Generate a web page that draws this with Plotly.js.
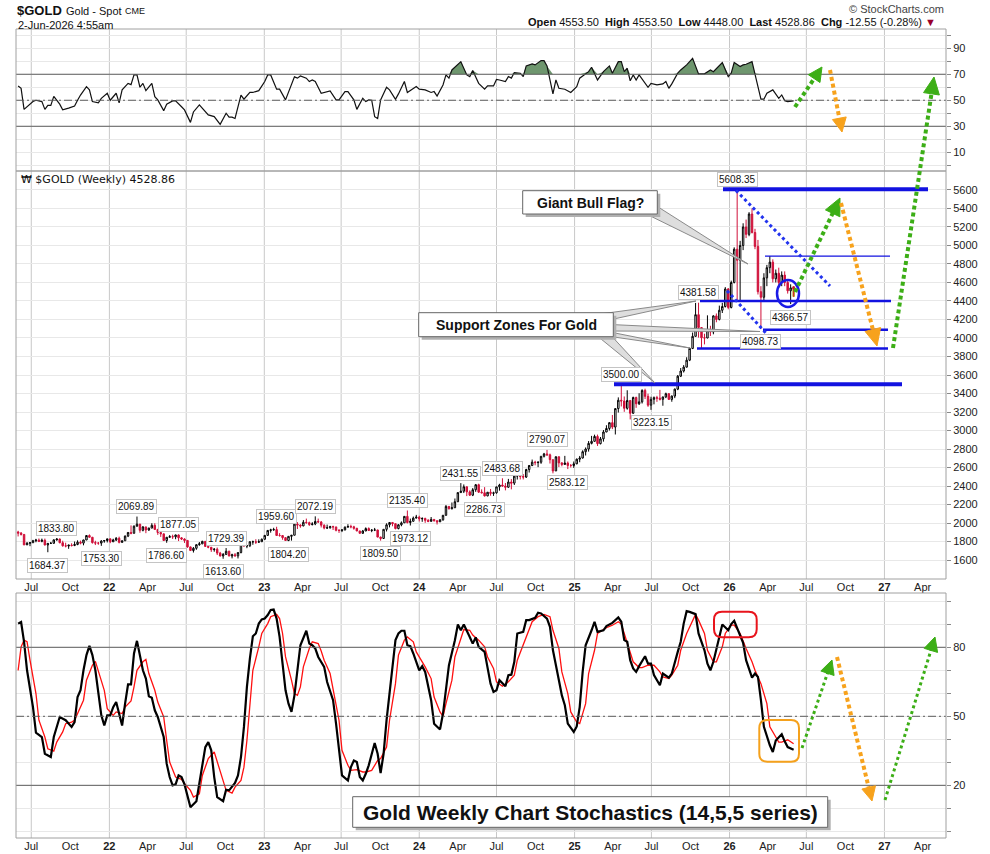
<!DOCTYPE html>
<html><head><meta charset="utf-8">
<script src="https://cdn.plot.ly/plotly-3.0.1.min.js"></script>
<style>html,body{margin:0;padding:0;background:#fff}#chart{width:990px;height:854px}</style>
</head><body><div id="chart"></div>
<script>
// ---------------- DATA (weekly bars, first bar week of 2021-05-31) ----------------
const firstWeek = '2021-05-31';
const open2021 = [1903,1891,1877,1764,1781,1787,1809,1815,1802,1814,1763,1780,1781,1818,1827,1787,1754,1751,1761,1757,1768,1793,1783,1817,1865,1846,1788,1783,1783,1805,1811];
const high2021 = [1916,1903,1880,1795,1795,1818,1829,1833,1832,1832,1781,1795,1823,1833.8,1832,1809,1787,1764,1781,1800,1813,1810,1819,1868,1877,1850,1808,1793,1815,1814,1830];
const low2021  = [1855,1865,1761,1767,1750,1785,1792,1794,1792,1757,1684.37,1773,1778,1809,1781,1745,1737,1721,1746,1750,1760,1770,1759,1815,1843,1778,1762,1765,1753.3,1787,1790];
const close2021= [1891,1877,1764,1781,1787,1809,1815,1802,1814,1763,1780,1781,1818,1827,1787,1754,1751,1761,1757,1768,1793,1783,1817,1865,1846,1788,1783,1783,1805,1811,1829];

const open2022 = [1829,1797,1817,1835,1791,1808,1859,1898,1889,1966,1988,1921,1958,1925,1945,1975,1931,1897,1883,1811,1846,1853,1851,1871,1840,1827,1812,1742,1703,1727,1766,1775,1802,1747,1738,1712,1717,1675,1644,1660,1695,1644,1657,1645,1681,1771,1751,1755,1797,1797,1793,1798];
const high2022 = [1831,1830,1848,1853,1812,1865,1903,1974,1974,2069.89,1990,1966,1960,1950,1998,1998,1936,1910,1885,1849,1870,1874,1875,1877.05,1847,1835,1814,1745,1740,1767,1795,1808,1802,1765,1740,1729,1735,1688,1676,1729.39,1700,1668,1675,1682,1774,1787,1763,1804,1810,1825,1824,1833];
const low2022  = [1782,1797,1805,1780,1788,1808,1848,1878,1888,1960,1895,1910,1890,1915,1945,1929,1872,1850,1808,1786.6,1840,1828,1825,1805,1816,1785,1732,1697,1681,1711,1754,1772,1745,1727,1688,1690,1654,1639,1613.6,1660,1640,1618,1637,1617,1672,1746,1728,1740,1765,1774,1785,1797];
const close2022= [1797,1817,1835,1791,1808,1859,1898,1889,1966,1988,1921,1958,1925,1945,1975,1931,1897,1883,1811,1846,1853,1851,1871,1840,1827,1812,1742,1703,1727,1766,1775,1802,1747,1738,1712,1717,1675,1644,1660,1695,1644,1657,1645,1681,1771,1751,1755,1797,1797,1793,1798,1824];

const open2023 = [1824,1866,1920,1926,1929,1865,1865,1842,1811,1856,1868,1988,1978,1969,2008,2004,1983,1990,2017,2011,1977,1946,1948,1961,1958,1921,1919,1925,1955,1962,1959,1943,1914,1889,1914,1940,1919,1924,1925,1848,1833,1932,1981,2006,1993,1940,1981,2002,2072,2005,2019,2053];
const high2023 = [1871,1922,1938,1949,1959.6,1890,1870,1846,1858,1870,1990,2010,1986,2032,2048,2015,2009,2072.19,2048,2022,1985,1983,1970,1971,1959,1935,1935,1963,1987,1982,1970,1948,1916,1925,1953,1953,1932,1947,1927,1853,1932,1997,2009,2010,1993,1988,2017,2075,2135.4,2048,2070,2088];
const low2023  = [1823,1866,1896,1917,1861,1853,1819,1809,1804.2,1810,1867,1935,1949,1965,1993,1969,1974,1977,2005,1952,1932,1938,1940,1925,1910,1893,1902,1922,1952,1943,1928,1912,1885,1884,1913,1915,1901,1913,1846,1809.5,1832,1909,1953,1965,1932,1932,1965,2001,1996,1973.12,2016,2051];
const close2023= [1866,1920,1926,1929,1865,1865,1842,1811,1856,1868,1988,1978,1969,2008,2004,1983,1990,2017,2011,1977,1946,1948,1961,1958,1921,1919,1925,1955,1962,1959,1943,1914,1889,1914,1940,1919,1924,1925,1848,1833,1932,1981,2006,1993,1940,1981,2002,2072,2005,2019,2053,2063];

const open2024 = [2063,2045,2049,2029,2018,2039,2024,2013,2035,2083,2179,2155,2165,2230,2329,2344,2392,2337,2301,2360,2414,2334,2327,2293,2333,2321,2326,2391,2411,2400,2387,2443,2431,2507,2512,2503,2497,2578,2622,2658,2653,2657,2721,2747,2737,2685,2563,2716,2650,2633,2648,2622,2622];
const high2024 = [2079,2062,2058,2042,2065,2043,2031,2041,2088,2195,2185,2222,2265,2330,2431.55,2417,2393,2353,2378,2422,2425,2364,2388,2335,2368,2339,2392,2424,2483.68,2432,2477,2475,2509,2531,2528,2529,2586,2625,2686,2673,2667,2725,2758,2790.07,2750,2685,2721,2721,2657,2726,2665,2638,2665];
const low2024  = [2017,2013,2002,2009,2016,2016,1984,2011,2025,2082,2146,2146,2163,2228,2326,2324,2291,2292,2291,2337,2325,2320,2286.73,2290,2295,2293,2318,2350,2394,2353,2380,2364,2411,2470,2471,2471,2487,2546,2615,2624,2604,2640,2708,2725,2643,2537,2563,2605,2613,2631,2583.12,2600,2596];
const close2024= [2045,2049,2029,2018,2039,2024,2013,2035,2083,2179,2155,2165,2230,2329,2344,2392,2337,2301,2360,2414,2334,2327,2293,2333,2321,2326,2391,2411,2400,2387,2443,2431,2507,2512,2503,2497,2578,2622,2658,2653,2657,2721,2747,2737,2685,2563,2716,2650,2633,2648,2622,2622,2640];

const open2025 = [2640,2690,2703,2771,2800,2861,2883,2936,2858,2910,2984,3022,3085,3037,3237,3327,3319,3240,3325,3187,3357,3289,3310,3433,3369,3274,3337,3355,3350,3337,3363,3398,3336,3372,3447,3587,3643,3685,3760,3887,4018,4252,4113,4002,4000,4085,4065,4239,4200,4300,4340,4530];
const high2025 = [2697,2725,2786,2817,2886,2942,2955,2956,2930,3005,3057,3087,3168,3237,3358,3500,3368,3435,3325,3366,3366,3403,3446,3452,3398,3365,3368,3375,3439,3365,3409,3404,3379,3454,3600,3675,3707,3792,3897,4059,4379,4381.58,4113,4046,4245,4132,4245,4265,4350,4380,4550,4540];
const low2025  = [2636,2657,2697,2730,2772,2850,2880,2833,2850,2880,2982,3000,3015,2957,3194,3260,3202,3225,3120,3180,3245,3276,3292,3340,3256,3223.15,3283,3310,3325,3268,3350,3330,3311,3350,3436,3578,3627,3681,3750,3880,4016,4004,3886,3931,3997,4022,4040,4170,4190,4270,4330,4310];
const close2025= [2690,2703,2771,2800,2861,2883,2936,2858,2910,2984,3022,3085,3037,3237,3327,3319,3240,3325,3187,3357,3289,3310,3433,3369,3274,3337,3355,3350,3337,3363,3398,3336,3372,3447,3587,3643,3685,3760,3887,4018,4252,4113,4002,4000,4085,4065,4239,4200,4300,4340,4530,4330];

const open2026 = [4330,4600,4960,4840,5000,5200,5120,5340,5140,4990,4500,4440,4650,4760,4820,4640,4700,4600,4680,4600,4510,4553.5];
const high2026 = [4620,4980,5608.35,5050,5240,5280,5360,5400,5180,5060,4560,4700,4790,4885,4850,4740,4760,4720,4720,4620,4580,4553.5];
const low2026  = [4320,4590,4400,4410,4950,5080,5100,5130,4960,4470,4098.73,4400,4560,4700,4600,4600,4560,4560,4560,4480,4366.57,4448];
const close2026= [4600,4960,4840,5000,5200,5120,5340,5140,4990,4500,4440,4650,4760,4820,4640,4700,4600,4680,4600,4510,4541.41,4528.86];

// RSI(14): week index -> value
const rsiIdx = [0,1,2,3,5,6,8,9,10,11,12,14,15,17,19,20,21,23,24,25,27,28,30,31,33,34,35,37,38,39,40,41,42,43,44,45,46,47,49,50,52,53,55,56,58,59,61,63,64,66,68,70,71,72,73,75,76,78,79,81,83,84,85,87,88,90,91,93,94,95,97,98,99,100,102,104,105,107,108,110,111,113,114,116,117,118,119,120,121,122,124,125,127,128,130,131,132,134,135,137,139,140,141,143,144,145,146,148,149,151,152,153,155,157,158,160,161,162,164,165,166,167,169,170,171,173,174,176,177,178,180,181,182,184,186,188,189,192,193,195,197,199,200,202,203,204,205,206,207,208,209,212,213,215,217,218,219,220,222,223,225,227,229,231,233,234,235,237,239,240,241,243,244,245,247,248,250,251,252,254,256,257,258,259,261];
const rsiVal = [61,59.2,43,45,49,50,49,43,46,46,53,47,42.6,44,45.6,50,54,60.5,58,49,48,51.5,55.4,50,55.4,48,58,63,62,69.5,69.5,60,63,57.4,60,63,52.8,50.3,42,47,49.5,49.5,45,42.6,33,41,46.4,41,38.7,37.4,31.5,40,37,37,36,54,50.8,56,56,57.4,64.4,69.5,69.5,58.5,58.5,50.3,56.7,68,67,68.7,67,64.4,65.6,64.4,55.4,56.7,57.2,50.3,50.3,56.7,56.7,50.3,43,51.5,49,50.3,50,37.4,36,50.3,60,58,50.8,54.9,64.4,56,57.4,60.5,58.5,58,56,56.7,53.3,61.8,69.5,67,73.3,77.2,79.7,69.5,68.2,72.8,63,58.5,61,61,66,65.6,64.4,68.2,67,71.3,70.8,68.2,76.4,78,77.2,80.5,80.5,76.4,54.9,65.6,59.2,58.5,56,60.5,67,72,75.4,65.6,72,76.4,70.8,79.7,79.7,72,74.6,65,69.5,65.6,69.5,60,63,61.8,62.6,64.4,59.2,62.6,70.8,73.3,77.2,82.3,70.3,70.3,73.3,72,74.6,79,68.2,70.8,79,75.9,77.2,77.7,79.7,70.8,50.8,50.8,55.4,58,51.5,54.1,49.7,49,49.5];

// Slow stochastics %K (black)
const stochKIdx = [0,1,2,3,5,6,8,9,11,12,14,15,16,18,19,20,21,22,23,24,25,26,27,28,29,30,31,32,33,34,35,36,37,38,39,40,41,42,43,44,45,46,47,49,50,51,52,53,54,55,56,57,58,60,61,62,63,64,65,66,67,69,70,71,73,74,75,76,77,78,79,80,81,82,83,84,85,86,87,88,89,90,91,92,93,94,95,97,98,99,100,101,103,104,106,107,108,109,111,112,113,114,115,116,117,118,120,121,122,123,124,125,126,127,128,129,130,131,132,133,135,136,137,138,139,140,142,143,144,145,147,148,149,150,152,153,154,155,157,158,159,160,161,162,164,165,166,167,168,170,171,172,174,175,176,178,179,180,181,182,183,184,185,187,188,189,190,191,193,194,195,197,198,200,202,203,204,205,206,207,208,209,211,212,213,214,216,217,219,220,222,223,224,225,226,228,229,231,232,233,234,236,237,239,240,241,243,244,245,247,248,249,250,251,253,254,255,257,258,259,261];
const stochKVal = [90.3,91,82.4,70,54,42.9,41,33.7,32.3,41,49.7,49,48.3,45.4,47.5,58.4,61.3,70,76.6,80.6,76.6,70,59.9,50.4,46,50.4,50.4,54,56.2,51.2,46,55.5,63.9,63.9,77.3,82.8,75.8,70,66.4,58.7,58.1,52.6,49.7,41,29.4,23.6,20,20.4,24.3,23.6,20.4,14.9,10.5,13.1,20.7,30.1,36.6,38.8,35.2,23.6,14.9,13.1,18.1,17.8,21,24.3,32.3,45.4,62.8,75.1,84.8,86,90.3,92.1,92.5,94,96.2,96.4,92.5,84.5,73.7,61.3,55.5,51.9,59.1,71.5,80.9,87.2,81.6,80.9,79.5,75.8,71.5,64.9,57,46.8,35.2,24.3,22.1,27.9,30.8,30.1,23.6,22.1,25,28.7,38.4,33.7,25.3,33.7,48.3,59.9,72.9,83.1,86,87.2,87.2,80.9,80.5,77.3,70,71.8,69.3,62.8,57,46.8,44.3,51.2,62.8,72.2,83.1,89.9,87.4,89.9,84.5,81.6,84.3,80.2,78,71.5,64.2,60.6,61.3,65.7,63.1,67.9,68.1,73.7,86,86.7,91.8,91.8,92.8,95,94.7,92.5,88.9,78.7,72.9,65.7,59.1,54.8,46.8,43.2,45.6,54,69.3,80.9,87.4,91.1,86.7,87.4,89.2,90.6,93,91.1,83.1,82.4,74.4,70.8,69.3,71.8,76.1,72.9,72.9,67.9,63.5,68.6,66.8,68.6,78,82.4,90.3,95.7,95.4,94.4,86,78.7,72.9,70,73.7,83.8,89.9,87.4,90.1,91.5,85.3,81.9,74.4,66.8,68.6,67.1,57,45.4,37.4,34.5,39.5,42.2,39.1,36.6,35.5];

// Slow stochastics %D (red)
const stochDIdx = [0,1,2,3,4,6,7,9,10,12,13,15,16,18,19,20,22,23,25,26,27,29,30,32,33,35,36,38,39,40,42,43,44,46,47,49,50,51,53,55,56,58,59,61,62,64,66,67,69,70,72,73,75,76,77,78,79,81,82,84,85,87,88,89,90,92,93,94,95,96,98,99,101,102,103,105,106,108,109,111,112,114,116,117,119,121,122,124,125,127,128,130,131,133,134,135,137,139,140,142,143,144,146,147,149,150,152,153,155,157,158,160,161,162,163,165,167,168,170,172,173,175,177,179,180,182,183,185,186,188,189,191,192,194,195,197,198,200,202,203,204,206,207,209,210,212,214,216,217,219,220,222,223,225,227,228,229,231,232,234,235,237,238,240,241,243,245,247,248,250,252,253,255,256,257,259,261];
const stochDVal = [70,80.2,83.1,82.4,74.4,59.9,48.3,41,35.9,34.9,38.8,43.2,46.8,47.5,48.3,51.2,57,65.7,72.2,73.9,70,61.3,53.3,50.4,51.9,51.2,54,56.7,62.8,70,73.7,74.7,68.6,61.3,56.2,49.7,39.5,30.1,23.6,22.6,20.7,17.8,14.9,16.3,24.3,31.6,34.5,30.1,22.1,17.8,16.6,19.2,22.1,27.9,39.5,55.5,70,80.2,86,90.3,93.3,94.3,92.5,86,75.8,65.7,59.9,59.1,62.8,71.5,79.5,82.4,81.6,78.4,74.4,68.6,61.3,48.3,35.2,28.7,26.5,26.8,25.8,25.8,26.5,30.8,31.6,36.6,48.3,64.2,76.6,83.1,84.5,82.4,78,75.8,71.5,66.4,58.4,51.9,50,55.5,65.7,75.8,83.8,87.7,87.4,85.3,83.1,80.2,75.8,70.8,65,64.2,63.1,65,67.9,74.4,80.9,87.4,91.1,93.3,94.3,93.3,87.4,79.5,69.3,59.9,51.9,47.5,46.8,55.5,68.6,78.7,86,87.7,88.5,89.6,91.1,90.1,86,78.7,73.7,71.2,71.2,72.2,72.2,69.3,67.1,66.4,67.9,72.2,78.7,86,91.8,94.3,91.8,86,78.7,73.7,73.7,80.2,86,89.6,89.6,86,79.5,73.7,70,64.2,55.5,45.4,41,38.8,38.8,39.8,38.1];

// Swing labels: week index, value, above/below
const swingIdx = [13,10,28,40,50,54,70,69,87,91,100,122,131,132,149,157,163,178,185,203,213,229,242,260,250];
const swingVal = [1833.80,1684.37,1753.30,2069.89,1786.60,1877.05,1729.39,1613.60,1959.60,1804.20,2072.19,1809.50,2135.40,1973.12,2431.55,2286.73,2483.68,2790.07,2583.12,3500.00,3223.15,4381.58,5608.35,4366.57,4098.73];
const swingPos = ['a','b','b','a','b','a','a','b','a','b','a','b','a','b','a','b','a','a','b','a','b','a','a','b','b'];

// Drawn support / resistance levels
const levelVals = [5608.35, 3500, 4400, 4090, 3886, 4885];

// Axis ticks
const xTickVals = ['2021-07-01','2021-10-01','2022-01-01','2022-04-01','2022-07-01','2022-10-01','2023-01-01','2023-04-01','2023-07-01','2023-10-01','2024-01-01','2024-04-01','2024-07-01','2024-10-01','2025-01-01','2025-04-01','2025-07-01','2025-10-01','2026-01-01','2026-04-01','2026-07-01','2026-10-01','2027-01-01','2027-04-01'];
const xTickText = ['Jul','Oct','<b>22</b>','Apr','Jul','Oct','<b>23</b>','Apr','Jul','Oct','<b>24</b>','Apr','Jul','Oct','<b>25</b>','Apr','Jul','Oct','<b>26</b>','Apr','Jul','Oct','<b>27</b>','Apr'];
const xGridVals = ['2021-07-01','2022-01-01','2022-07-01','2023-01-01','2023-07-01','2024-01-01','2024-07-01','2025-01-01','2025-07-01','2026-01-01','2026-07-01','2027-01-01'];
const rsiTickVals = [0,10,20,30,40,50,60,70,80,90,100];
const rsiTickText = ['','10','','30','','50','','70','','90',''];
const priceTickVals = [1600,1800,2000,2200,2400,2600,2800,3000,3200,3400,3600,3800,4000,4200,4400,4600,4800,5000,5200,5400,5600];
const stochTickVals = [0,10,20,30,40,50,60,70,80,90,100];
const stochTickText = ['','','20','','','50','','','80','',''];

// ---------------- BUILD ----------------
const open = [].concat(open2021,open2022,open2023,open2024,open2025,open2026);
const high = [].concat(high2021,high2022,high2023,high2024,high2025,high2026);
const low  = [].concat(low2021,low2022,low2023,low2024,low2025,low2026);
const close= [].concat(close2021,close2022,close2023,close2024,close2025,close2026);
const t0 = Date.parse(firstWeek + 'T00:00:00Z');
const dates = open.map((_, i) => new Date(t0 + i * 7 * 86400000).toISOString().slice(0, 10));
const last = open.length - 1;

const FONT = 'Liberation Sans, Arial, sans-serif';
const L = 16, R = 946, T = 29, B = 838;
const P = X => (X - L) / (R - L);
const Q = Y => (B - Y) / (B - T);

const traces = [];
const rsiX = rsiIdx.map(i => dates[i]);
traces.push({type:'scatter', mode:'lines', x:rsiX, y:rsiIdx.map(() => 70), xaxis:'x3', yaxis:'y', line:{width:0, color:'rgba(0,0,0,0)'}, hoverinfo:'skip', showlegend:false});
traces.push({type:'scatter', mode:'lines', x:rsiX, y:rsiVal.map(v => Math.max(v, 70)), xaxis:'x3', yaxis:'y', fill:'tonexty', fillcolor:'rgb(110,150,110)', line:{width:0, color:'rgba(0,0,0,0)'}, hoverinfo:'skip', showlegend:false});
traces.push({type:'scatter', mode:'lines', x:rsiX, y:rsiVal, xaxis:'x3', yaxis:'y', line:{width:1.2, color:'#111'}, hoverinfo:'skip', showlegend:false});
traces.push({type:'candlestick', x:dates, open:open, high:high, low:low, close:close, xaxis:'x2', yaxis:'y2',
  increasing:{line:{color:'#000', width:1}, fillcolor:'#ffffff'},
  decreasing:{line:{color:'#d0103a', width:1}, fillcolor:'#d0103a'},
  whiskerwidth:0, hoverinfo:'skip', showlegend:false});
traces.push({type:'bar', x:[dates[last]], base:[low[last]], y:[open[last] - low[last]], width:[3.2 * 86400000], xaxis:'x2', yaxis:'y2',
  marker:{color:'#fff35a', line:{color:'#b8a000', width:1}}, hoverinfo:'skip', showlegend:false});
traces.push({type:'scatter', mode:'lines', x:stochDIdx.map(i => dates[i]), y:stochDVal, xaxis:'x', yaxis:'y3', line:{width:1.3, color:'#ff1010'}, hoverinfo:'skip', showlegend:false});
traces.push({type:'scatter', mode:'lines', x:stochKIdx.map(i => dates[i]), y:stochKVal, xaxis:'x', yaxis:'y3', line:{width:2.2, color:'#000'}, hoverinfo:'skip', showlegend:false});

const baseX = {type:'date', range:['2021-05-26','2027-05-26'], showgrid:false, zeroline:false, showline:false, ticks:'',
  tickvals:xTickVals, ticktext:xTickText, tickfont:{family:FONT, size:11, color:'#222'}, fixedrange:true};
const baseY = {side:'right', showgrid:true, gridcolor:'#e8e8e8', gridwidth:1, zeroline:false, showline:false,
  ticks:'outside', ticklen:4, tickcolor:'#888', tickfont:{family:FONT, size:11, color:'#222'}, fixedrange:true};

const shapes = [];
['y','y2','y3'].forEach(ya => xGridVals.forEach(d => shapes.push({type:'line', xref:'x', yref:ya + ' domain', x0:d, x1:d, y0:0, y1:1, line:{color:'#c8c8c8', width:1}, layer:'below'})));
const DD = '8px,3px,2px,3px';
const lvl = (ya, v, dash) => shapes.push({type:'line', xref:'paper', yref:ya, x0:0, x1:1, y0:v, y1:v, line:{color:'#5c5c5c', width:1, dash:dash || 'solid'}, layer:'above'});
lvl('y',70); lvl('y',30); lvl('y',50,DD); lvl('y3',80); lvl('y3',20); lvl('y3',50,DD);
[[T,171],[171,579],[593,B]].forEach(([a,b]) => shapes.push({type:'rect', xref:'paper', yref:'paper', x0:0, x1:1, y0:Q(b), y1:Q(a), line:{color:'#a0a0a0', width:1}, fillcolor:'rgba(0,0,0,0)', layer:'above'}));

const BLUE = '#1212e0';
const lvlX = [[723,928,4],[614,902,4],[700,891,2.5],[763,888,2.5],[697,888,2.5],[765,890,1.2]];
levelVals.forEach((v, k) => shapes.push({type:'line', xref:'paper', yref:'y2', x0:P(lvlX[k][0]), x1:P(lvlX[k][1]), y0:v, y1:v, line:{color:BLUE, width:lvlX[k][2]}}));
shapes.push({type:'line', xref:'paper', yref:'paper', x0:P(736), y0:Q(190.5), x1:P(830), y1:Q(286), line:{color:'#2233ee', width:3, dash:'3px,3px'}});
shapes.push({type:'line', xref:'paper', yref:'paper', x0:P(727), y0:Q(290.7), x1:P(780), y1:Q(348.3), line:{color:'#2233ee', width:3, dash:'3px,3px'}});
shapes.push({type:'circle', xref:'paper', yref:'paper', x0:P(777), x1:P(799), y0:Q(307), y1:Q(280), line:{color:'#1a1ae6', width:2.5}});

function arrow(a, color, width, hl, hw, dash) {
  const [x1,y1,x2,y2] = a; const dx = x2-x1, dy = y2-y1, len = Math.hypot(dx,dy);
  const ux = dx/len, uy = dy/len, bx = x2-ux*hl, by = y2-uy*hl, nx = -uy, ny = ux;
  shapes.push({type:'line', xref:'paper', yref:'paper', x0:P(x1), y0:Q(y1), x1:P(bx+ux), y1:Q(by+uy), line:{color:color, width:width, dash:dash}});
  shapes.push({type:'path', xref:'paper', yref:'paper', path:`M${P(x2)},${Q(y2)} L${P(bx+nx*hw)},${Q(by+ny*hw)} L${P(bx-nx*hw)},${Q(by-ny*hw)} Z`, fillcolor:color, line:{color:color, width:1}});
}
const GREEN = '#3cae16', ORANGE = '#f7a21c';
arrow([795,292,840,198], GREEN, 4, 17, 8, '4px,3px');
arrow([841,203,877,346], ORANGE, 4, 17, 8, '4px,3px');
arrow([893,348,934,77], GREEN, 4, 17, 8, '4px,3px');
arrow([795,107,822,67], GREEN, 4, 14, 7, '4px,3px');
arrow([830,70,842,132], ORANGE, 4, 14, 7, '4px,3px');
arrow([802,748,832,660], GREEN, 3, 14, 7, '3px,3px');
arrow([837,657,872,801], ORANGE, 4, 14, 7, '4px,3px');
arrow([885,800,935,637], GREEN, 3, 14, 7, '3px,3px');

function rrect(x0,y0,x1,y1,r,color,w) {
  const pts = (x,y) => `${P(x)},${Q(y)}`;
  const path = `M${pts(x0+r,y0)} L${pts(x1-r,y0)} Q${pts(x1,y0)} ${pts(x1,y0+r)} L${pts(x1,y1-r)} Q${pts(x1,y1)} ${pts(x1-r,y1)} L${pts(x0+r,y1)} Q${pts(x0,y1)} ${pts(x0,y1-r)} L${pts(x0,y0+r)} Q${pts(x0,y0)} ${pts(x0+r,y0)} Z`;
  shapes.push({type:'path', xref:'paper', yref:'paper', path:path, line:{color:color, width:w}, fillcolor:'rgba(0,0,0,0)'});
}
rrect(714,611.7,756.7,637.3,8,'#e8141c',2);
rrect(759.3,720,799,761.7,8,'#f5a11c',2);

function wedge(pts) {
  shapes.push({type:'path', xref:'paper', yref:'paper', path:'M' + pts.map(p => `${P(p[0])},${Q(p[1])}`).join(' L') + ' Z', fillcolor:'#dedede', line:{color:'#8a8a8a', width:1}});
}
function callBox(x0,y0,x1,y1) {
  shapes.push({type:'rect', xref:'paper', yref:'paper', x0:P(x0+3), x1:P(x1+3), y0:Q(y1+3), y1:Q(y0+3), fillcolor:'#b0b0b0', line:{width:0}});
  shapes.push({type:'rect', xref:'paper', yref:'paper', x0:P(x0), x1:P(x1), y0:Q(y1), y1:Q(y0), fillcolor:'#ffffff', line:{color:'#666', width:1}});
}
wedge([[628,205],[655,205],[748,264]]);
callBox(522.7,190.7,657.3,214);
wedge([[600,314],[600,322],[696,301]]);
wedge([[600,324],[600,331],[760,331.5]]);
wedge([[600,330],[600,335],[690,348]]);
wedge([[590,330],[606,330],[655,383]]);
callBox(418.7,312.7,613.3,336.7);
callBox(352.7,796.7,827.7,827.3);

const ann = [];
const A = (X,Y,text,size,opts) => ann.push(Object.assign({xref:'paper', yref:'paper', x:P(X), y:Q(Y), text:text, showarrow:false, xanchor:'left', yanchor:'middle', font:{family:FONT, size:size, color:'#111'}}, opts||{}));
A(15,10.5,'<b>$GOLD</b>',13);
A(64,11,'Gold - Spot',11);
A(123,11.5,'CME',9);
A(16,25,'2-Jun-2026 4:55am',11);
A(946,8.5,'© StockCharts.com',11,{xanchor:'right', font:{family:FONT, size:11, color:'#444'}});
A(938,22,'<b>Open</b> 4553.50&#160;&#160;<b>High</b> 4553.50&#160;&#160;<b>Low</b> 4448.00&#160;&#160;<b>Last</b> 4528.86&#160;&#160;<b>Chg</b> -12.55 (-0.28%) <span style="color:#99002b">▼</span>',11,{xanchor:'right'});
A(19,179,'₩ $GOLD (Weekly) 4528.86',11,{font:{family:'DejaVu Sans, sans-serif', size:11, color:'#111'}});
A(590,202.5,'<b>Giant Bull Flag?</b>',14,{xanchor:'center'});
A(516,325,'<b>Support Zones For Gold</b>',14,{xanchor:'center'});
A(590,812,'<b>Gold Weekly Chart Stochastics (14,5,5 series)</b>',21,{xanchor:'center'});
swingIdx.forEach((ix, k) => ann.push({xref:'x2', yref:'y2', x:dates[ix], y:swingVal[k], text:swingVal[k].toFixed(2), showarrow:false,
  yshift: swingPos[k] === 'a' ? 10 : -13, xanchor:'center', yanchor:'middle', bgcolor:'#ffffff', bordercolor:'#c4c4c4', borderwidth:1, borderpad:1,
  font:{family:FONT, size:10, color:'#111'}}));

const layout = {
  width:990, height:854, margin:{l:L, r:990-R, t:T, b:854-B}, paper_bgcolor:'#ffffff', plot_bgcolor:'rgba(0,0,0,0)', showlegend:false,
  xaxis: Object.assign({}, baseX, {anchor:'y3', domain:[0,1]}),
  xaxis2: Object.assign({}, baseX, {anchor:'y2', domain:[0,1], rangeslider:{visible:false}}),
  xaxis3: Object.assign({}, baseX, {anchor:'y', domain:[0,1], showticklabels:false}),
  yaxis: Object.assign({}, baseY, {anchor:'x3', domain:[Q(171),1], range:[-4.4,104.8], tickvals:rsiTickVals, ticktext:rsiTickText}),
  yaxis2: Object.assign({}, baseY, {anchor:'x2', domain:[Q(579),Q(171)], range:[1395,5805], tickvals:priceTickVals, ticktext:priceTickVals.map(String)}),
  yaxis3: Object.assign({}, baseY, {anchor:'x', domain:[0,Q(593)], range:[-2.9,103.6], tickvals:stochTickVals, ticktext:stochTickText}),
  shapes:shapes, annotations:ann, bargap:0
};
Plotly.newPlot('chart', traces, layout, {staticPlot:true, displayModeBar:false});
</script>
</body></html>
